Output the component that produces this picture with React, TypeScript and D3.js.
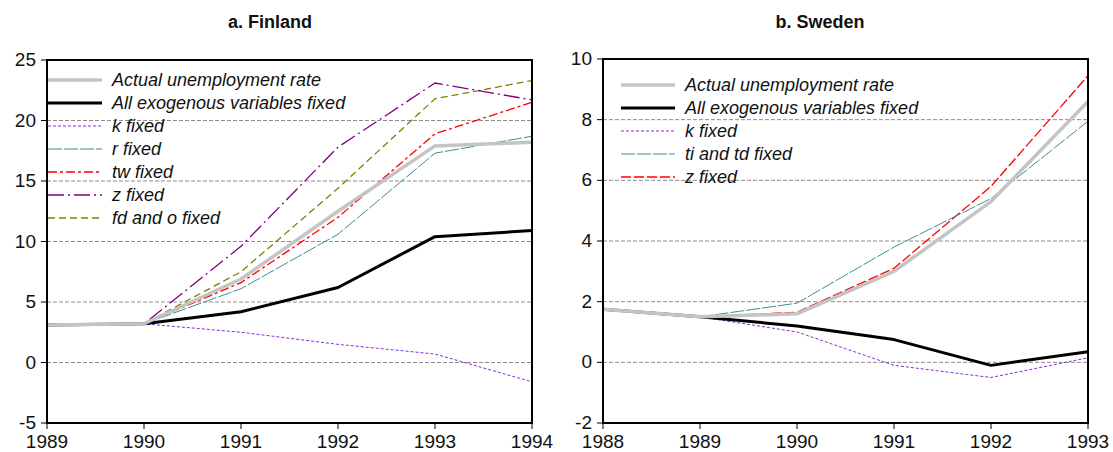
import React from 'react'
import * as d3 from 'd3'

// Finland, 1989-1994
const finYears = [1989, 1990, 1991, 1992, 1993, 1994]
const finActual = [3.1, 3.2, 6.9, 12.5, 17.9, 18.2]
const finAllFixed = [3.1, 3.2, 4.2, 6.2, 10.4, 10.9]
const finK = [3.1, 3.2, 2.5, 1.5, 0.7, -1.6]
const finR = [3.1, 3.2, 6.1, 10.6, 17.3, 18.7]
const finTw = [3.1, 3.2, 6.6, 12.0, 18.9, 21.5]
const finZ = [3.1, 3.2, 9.6, 17.8, 23.1, 21.7]
const finFdO = [3.1, 3.2, 7.5, 14.4, 21.8, 23.3]
const finTicks = [-5, 0, 5, 10, 15, 20, 25]

// Sweden, 1988-1993
const sweYears = [1988, 1989, 1990, 1991, 1992, 1993]
const sweActual = [1.75, 1.5, 1.6, 3.0, 5.3, 8.6]
const sweAllFixed = [1.75, 1.5, 1.2, 0.75, -0.1, 0.35]
const sweK = [1.75, 1.5, 1.0, -0.1, -0.5, 0.15]
const sweTiTd = [1.75, 1.5, 1.95, 3.8, 5.4, 7.95]
const sweZ = [1.75, 1.5, 1.65, 3.1, 5.8, 9.45]
const sweTicks = [-2, 0, 2, 4, 6, 8, 10]

const FONT = 'Arial, "Liberation Sans", sans-serif'

const styles = {
  actual: { color: '#c4c4c4', width: 3.5, dash: null },
  all: { color: '#000000', width: 3, dash: null },
  k: { color: '#8a2be2', width: 1, dash: '3,2' },
  r: { color: '#3f8f8f', width: 1, dash: '14,2' },
  tw: { color: '#ff0000', width: 1.3, dash: '9,3,3,3' },
  z: { color: '#800080', width: 1.3, dash: '16,4,2,4' },
  fdo: { color: '#808000', width: 1.3, dash: '7,4' },
}

const Panel = ({ title, titleX, years, ticks, series, x0, x1, yTop, yBot, legendX, legendY }) => {
  const x = d3.scaleLinear().domain([years[0], years[years.length - 1]]).range([x0, x1])
  const y = d3.scaleLinear().domain([ticks[0], ticks[ticks.length - 1]]).range([yBot, yTop])
  const ln = d3.line<number>()
    .x((d, i) => x(years[i]))
    .y(d => y(d))

  return (
    <g>
      <text x={titleX} y={28} textAnchor='middle' fontFamily={FONT} fontWeight='bold' fontSize={18} fill='#111'>
        {title}
      </text>
      {ticks.slice(1, -1).map(t => (
        <line key={'g' + t} x1={x0} x2={x1} y1={y(t)} y2={y(t)} stroke='#8c8c8c' strokeWidth={1} strokeDasharray='4,2' />
      ))}
      {series.slice().reverse().map(s => (
        <path key={s.label} d={ln(s.values)} fill='none' stroke={s.style.color} strokeWidth={s.style.width}
          strokeDasharray={s.style.dash || undefined} strokeLinejoin='round' />
      ))}
      {series.map((s, i) => (
        <g key={'l' + s.label}>
          <line x1={legendX} x2={legendX + 54} y1={legendY + i * 23} y2={legendY + i * 23}
            stroke={s.style.color} strokeWidth={s.style.width} strokeDasharray={s.style.dash || undefined} />
          <text x={legendX + 64} y={legendY + i * 23 + 6} fontFamily={FONT} fontStyle='italic' fontSize={18} fill='#111'>
            {s.label}
          </text>
        </g>
      ))}
      <rect x={x0} y={yTop} width={x1 - x0} height={yBot - yTop} fill='none' stroke='#000' strokeWidth={2} />
      {ticks.map(t => (
        <g key={'y' + t}>
          <line x1={x0 - 6} x2={x0} y1={y(t)} y2={y(t)} stroke='#000' strokeWidth={1} />
          <text x={x0 - 11} y={y(t) + 6} textAnchor='end' fontFamily={FONT} fontSize={19} fill='#111'>{t}</text>
        </g>
      ))}
      {years.map(yr => (
        <g key={'x' + yr}>
          <line x1={x(yr)} x2={x(yr)} y1={yBot} y2={yBot + 6} stroke='#000' strokeWidth={1} />
          <text x={x(yr)} y={yBot + 25} textAnchor='middle' fontFamily={FONT} fontSize={19} fill='#111'>{yr}</text>
        </g>
      ))}
    </g>
  )
}

export default function App() {
  const finSeries = [
    { label: 'Actual unemployment rate', values: finActual, style: styles.actual },
    { label: 'All exogenous variables fixed', values: finAllFixed, style: styles.all },
    { label: 'k  fixed', values: finK, style: styles.k },
    { label: 'r fixed', values: finR, style: styles.r },
    { label: 'tw fixed', values: finTw, style: styles.tw },
    { label: 'z  fixed', values: finZ, style: styles.z },
    { label: 'fd and o fixed', values: finFdO, style: styles.fdo },
  ]
  const sweSeries = [
    { label: 'Actual unemployment rate', values: sweActual, style: styles.actual },
    { label: 'All exogenous variables fixed', values: sweAllFixed, style: styles.all },
    { label: 'k  fixed', values: sweK, style: styles.k },
    { label: 'ti and td fixed', values: sweTiTd, style: styles.r },
    { label: 'z  fixed', values: sweZ, style: { ...styles.tw, dash: '10,3' } },
  ]
  return (
    <svg width={1113} height={452} style={{ position: 'absolute', left: 0, top: 0, background: '#fff' }}>
      <rect width={1113} height={452} fill='#fff' />
      <Panel title='a. Finland' titleX={270} years={finYears} ticks={finTicks} series={finSeries}
        x0={47} x1={532} yTop={60} yBot={423} legendX={48} legendY={80} />
      <Panel title='b. Sweden' titleX={820} years={sweYears} ticks={sweTicks} series={sweSeries}
        x0={603} x1={1088} yTop={59} yBot={423} legendX={621} legendY={85} />
    </svg>
  )
}
